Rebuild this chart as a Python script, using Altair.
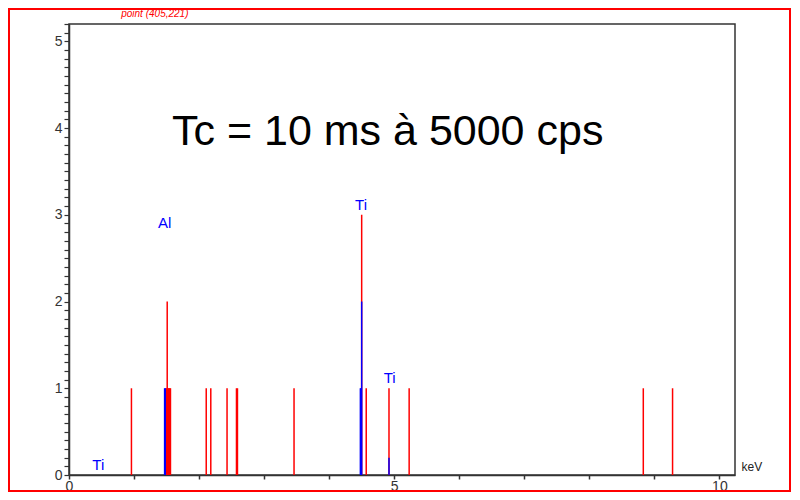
import altair as alt
import pandas as pd

# Red spectrum lines (keV, counts)
red_kev = [0.96, 1.49, 1.50, 1.51, 1.52, 1.53, 1.54, 1.55, 1.56, 2.11, 2.18, 2.43,
           2.575, 2.59, 3.46, 4.50, 4.57, 4.92, 5.23, 8.83, 9.28]
red_cps = [1, 1, 1, 2, 1, 1, 1, 1, 1, 1, 1, 1, 1, 1, 1, 3, 1, 1, 1, 1, 1]
# Blue overlay lines
blue_kev = [1.47, 1.48, 4.48, 4.49, 4.50, 4.92]
blue_cps = [1, 1, 1, 1, 2, 0.2]
# Element labels
label_text = ["Al", "Ti", "Ti", "Ti"]
label_kev = [1.47, 4.49, 4.93, 0.45]
label_cps = [2.9, 3.11, 1.12, 0.12]
# Axis ticks
x_ticks = list(range(0, 11))
y_ticks = [round(i * 0.1, 1) for i in range(53)]

FONT = "Liberation Sans"
W, H = 666, 451

red_df = pd.DataFrame({"kev": red_kev, "cps": red_cps})
blue_df = pd.DataFrame({"kev": blue_kev, "cps": blue_cps})
lab_df = pd.DataFrame({"t": label_text, "kev": label_kev, "cps": label_cps})

xscale = alt.Scale(domain=[0, 10.24], nice=False, zero=False)
yscale = alt.Scale(domain=[0, 5.2], nice=False, zero=False)

xaxis = alt.Axis(values=x_ticks, labelExpr="datum.value % 5 === 0 ? datum.value : ''",
                 title=None, grid=False, tickSize=4, labelPadding=0, labelFontSize=14,
                 labelFont=FONT, labelColor="#333", domainColor="#333", tickColor="#333",
                 domainWidth=1.5, tickWidth=1.5, labelFlush=False, labelOverlap=False,
                 tickCount=20)
yaxis = alt.Axis(values=y_ticks, labelExpr="datum.value % 1 === 0 ? datum.value : ''",
                 title=None, grid=False, tickSize=5, labelPadding=2, labelFontSize=14,
                 labelFont=FONT, labelColor="#333", domainColor="#333", tickColor="#333",
                 domainWidth=1.5, tickWidth=1.2, labelFlush=False, labelOverlap=False,
                 labelBound=False, tickCount=100)

red = alt.Chart(red_df).mark_rule(color="#ff0000", strokeWidth=1.5).encode(
    x=alt.X("kev:Q", scale=xscale, axis=xaxis),
    y=alt.Y("cps:Q", scale=yscale, axis=yaxis),
    y2=alt.datum(0),
)
blue = alt.Chart(blue_df).mark_rule(color="#0000ff", strokeWidth=1.5).encode(
    x=alt.X("kev:Q", scale=xscale),
    y=alt.Y("cps:Q", scale=yscale),
    y2=alt.datum(0),
)
labels = alt.Chart(lab_df).mark_text(color="#0000ff", fontSize=15, font=FONT,
                                     baseline="middle", align="center").encode(
    x=alt.X("kev:Q", scale=xscale),
    y=alt.Y("cps:Q", scale=yscale),
    text="t:N",
)

note_text = ["Tc = 10 ms à 5000 cps", "point (405,221)", "keV"]
note_kev = [4.9, 1.32, 10.5]
note_cps = [3.96, 5.31, 0.09]
note_df = pd.DataFrame({"t": note_text, "kev": note_kev, "cps": note_cps})

big = alt.Chart(note_df.iloc[[0]]).mark_text(fontSize=43, font=FONT, color="#000",
                                            baseline="middle", align="center").encode(
    x=alt.X("kev:Q", scale=xscale), y=alt.Y("cps:Q", scale=yscale), text="t:N")
pt = alt.Chart(note_df.iloc[[1]]).mark_text(fontSize=10, font=FONT, color="#ff0000",
                                           fontStyle="italic", baseline="middle",
                                           align="center").encode(
    x=alt.X("kev:Q", scale=xscale), y=alt.Y("cps:Q", scale=yscale), text="t:N")
kev = alt.Chart(note_df.iloc[[2]]).mark_text(fontSize=12, font=FONT, color="#222",
                                            baseline="middle", align="center").encode(
    x=alt.X("kev:Q", scale=xscale), y=alt.Y("cps:Q", scale=yscale), text="t:N")

border = alt.Chart(pd.DataFrame({"a": [0]})).mark_rect(
    fillOpacity=0, stroke="#ff0000", strokeWidth=2).encode(
    x=alt.value(-60), x2=alt.value(721), y=alt.value(-15), y2=alt.value(483 - 16))

chart = alt.layer(border, red, blue, labels, big, pt, kev).properties(
    width=W, height=H, autosize="none",
    padding={"left": 61, "top": 16, "right": 57, "bottom": 17},
    background="white",
).configure_view(stroke="#333", strokeWidth=1.5)

chart.save("out.html", embed_options={"renderer": "svg", "actions": False})
